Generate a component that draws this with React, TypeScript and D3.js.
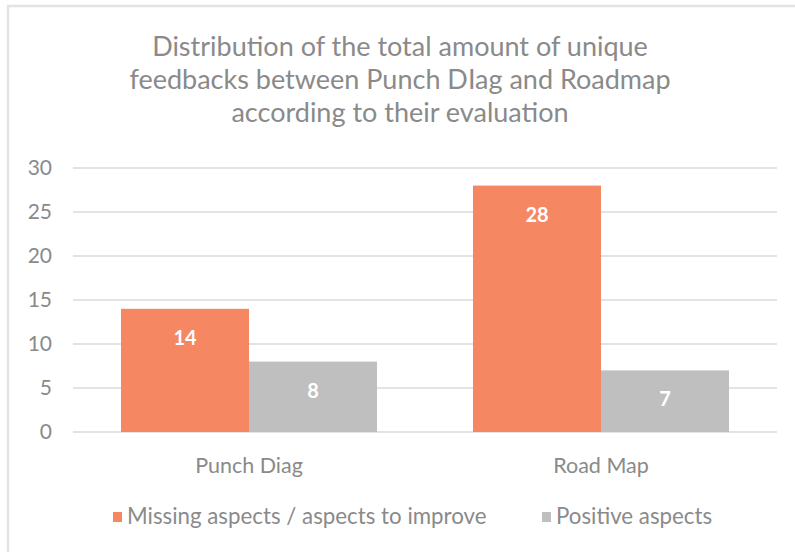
import React from "react";
import * as d3 from "d3";

const categories = ["Punch Diag", "Road Map"];
const seriesNames = ["Missing aspects / aspects to improve", "Positive aspects"];
const missingValues = [14, 28];
const positiveValues = [8, 7];
const yTicks = [0, 5, 10, 15, 20, 25, 30];
const titleLines = [
  "Distribution of the total amount of unique",
  "feedbacks between Punch DIag and Roadmap",
  "according to their evaluation",
];
const colors = ["#F58763", "#BFBFBF"];

const W = 795;
const H = 552;
const FONT = "Lato, 'Open Sans', sans-serif";
const TEXT = "#8A8A8A";

export default function App() {
  const margin = { left: 73, right: 795 - 777 };
  const x0 = d3
    .scaleBand<string>()
    .domain(categories)
    .range([margin.left, W - margin.right]);
  const groupPad = 48;
  const x1 = d3
    .scaleBand<number>()
    .domain([0, 1])
    .range([groupPad, x0.bandwidth() - groupPad]);
  const y = d3.scaleLinear().domain([0, 30]).range([432, 168]);
  const series = [missingValues, positiveValues];

  return (
    <svg
      width={W}
      height={H}
      style={{ position: "absolute", left: 0, top: 0, background: "#fff" }}
      fontFamily={FONT}
    >
      <rect x={8} y={6} width={W + 10} height={H + 10} fill="#fff" stroke="#E3E3E3" strokeWidth={2.5} />
      {titleLines.map((t, i) => (
        <text key={i} x={400} y={56 + i * 33} textAnchor="middle" fontSize={27} fill={TEXT}>
          {t}
        </text>
      ))}
      {yTicks.map((t) => (
        <g key={t}>
          <line x1={margin.left} x2={W - margin.right} y1={y(t)} y2={y(t)} stroke="#E3E3E3" strokeWidth={2} />
          <text x={52} y={y(t)} dy="0.35em" textAnchor="end" fontSize={21} fill={TEXT}>
            {t}
          </text>
        </g>
      ))}
      {categories.map((c, ci) => (
        <g key={c} transform={`translate(${x0(c)},0)`}>
          {series.map((vals, si) => {
            const bx = x1(si)!;
            const bw = x1.bandwidth();
            const v = vals[ci];
            return (
              <g key={si}>
                <rect x={bx} y={y(v)} width={bw} height={y(0) - y(v)} fill={colors[si]} />
                <text
                  x={bx + bw / 2}
                  y={y(v) + 29}
                  dy="0.35em"
                  textAnchor="middle"
                  fontSize={20}
                  fontWeight="bold"
                  fill="#fff"
                >
                  {v}
                </text>
              </g>
            );
          })}
          <text x={x0.bandwidth() / 2} y={473} textAnchor="middle" fontSize={21.5} fill={TEXT}>
            {c}
          </text>
        </g>
      ))}
      <g>
        <rect x={113} y={512} width={9} height={10} fill={colors[0]} />
        <text x={127} y={524} fontSize={22.3} fill={TEXT}>
          {seriesNames[0]}
        </text>
        <rect x={542} y={512} width={9} height={10} fill={colors[1]} />
        <text x={556} y={524} fontSize={22.3} fill={TEXT}>
          {seriesNames[1]}
        </text>
      </g>
    </svg>
  );
}
